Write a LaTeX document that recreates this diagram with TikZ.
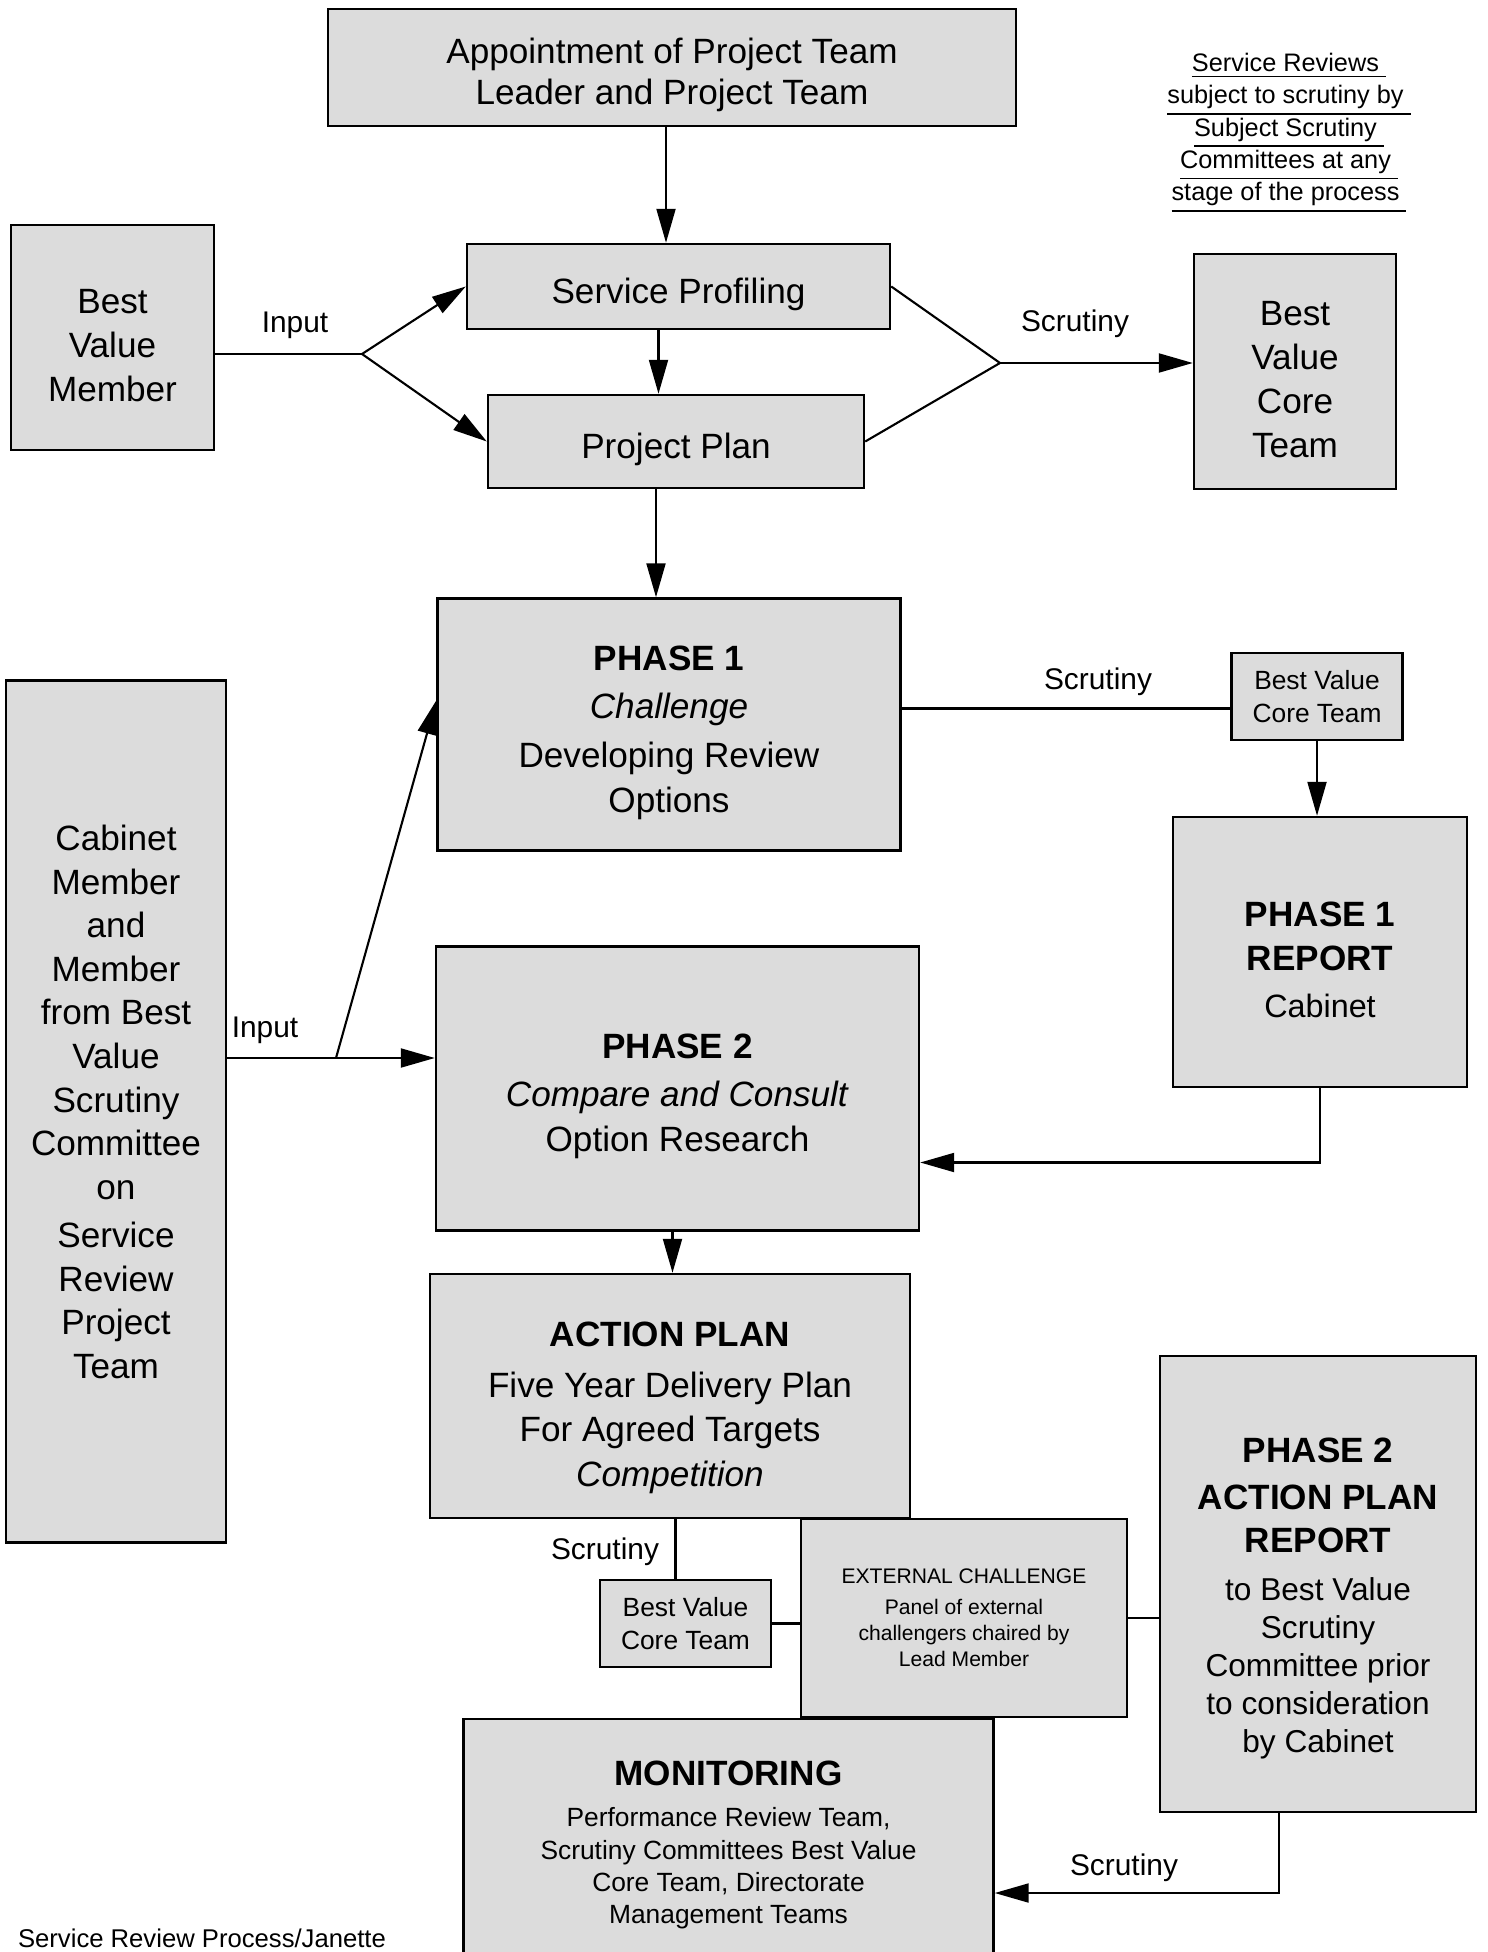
\documentclass[tikz,border=0pt]{standalone}
\usepackage{fontspec}
\setmainfont{Liberation Sans}
\usetikzlibrary{arrows.meta,positioning}
\definecolor{boxgray}{RGB}{220,220,220}
\newcommand{\topgap}[1][11.5pt]{\rule{0pt}{#1}}

\begin{document}
\begin{tikzpicture}[line width=0.6pt,
  box/.style={draw, fill=boxgray, line width=0.7pt, align=center, inner sep=0pt, font=\fontsize{10}{12.4}\selectfont},
  small/.style={box, font=\fontsize{7.5}{9.4}\selectfont, minimum width=1.71cm, minimum height=0.87cm},
  lbl/.style={inner sep=1pt, font=\fontsize{8.5}{10}\selectfont},
  arr/.style={-{Triangle[length=3.4mm,width=1.9mm]}}]

  \useasboundingbox (0,0) rectangle (14.87,-19.52);
  \clip (0,0) rectangle (14.87,-19.52);

  % Start of the review
  \node[box, minimum width=6.88cm, minimum height=1.17cm, font=\fontsize{10}{11.7}\selectfont] (appt) at (6.72,-0.675) {\topgap Appointment of Project Team\\Leader and Project Team};
  \node[box, minimum width=4.23cm, minimum height=0.85cm] (prof) at (6.785,-2.865) {\topgap Service Profiling};
  \node[box, minimum width=3.76cm, minimum height=0.93cm] (plan) at (6.76,-4.415) {\topgap Project Plan};
  \node[box, minimum width=2.03cm, minimum height=2.25cm] (bvm) at (1.125,-3.375) {\topgap Best\\Value\\Member};
  \node[box, minimum width=2.02cm, minimum height=2.35cm, font=\fontsize{10}{12.6}\selectfont] (core1) at (12.95,-3.715) {\topgap Best\\Value\\Core\\Team};
  \node[align=center, font=\fontsize{7.2}{9.2}\selectfont] (note) at (12.89,-1.33) {\underline{Service Reviews }\\\underline{subject to scrutiny by }\\\underline{Subject Scrutiny }\\\underline{Committees at any }\\\underline{stage of the process }};

  \coordinate (in1) at (3.62,-3.54);
  \coordinate (sc1) at (10.0,-3.63);
  \draw[arr] ([xshift=-0.6mm]appt.south) -- ([xshift=-0.6mm]appt.south |- prof.north);
  \draw[arr] ([xshift=-2mm]prof.south) -- ([xshift=-2mm]prof.south |- plan.north);
  \draw (bvm.east |- in1) -- (in1);
  \draw[arr] (in1) -- (prof.west);
  \draw[arr] (in1) -- (plan.west);
  \node[lbl] (inlbl1) at (2.95,-3.25) {Input};
  \draw (prof.east) -- (sc1);
  \draw (plan.east) -- (sc1);
  \draw[arr] (sc1) -- (sc1 -| core1.west);
  \node[lbl] (sclbl1) at (10.75,-3.24) {Scrutiny};

  % Phase 1 and Phase 2
  \node[box, minimum width=4.63cm, minimum height=2.52cm, font=\fontsize{10}{12.8}\selectfont] (ph1) at (6.69,-7.245) {\topgap\textbf{PHASE 1}\\[1pt]\textit{Challenge}\\[1pt]Developing Review\\Options};
  \node[small] (core2) at (13.17,-6.965) {Best Value\\Core Team};
  \node[box, minimum width=2.94cm, minimum height=2.70cm] (rep1) at (13.2,-9.52) {\topgap\textbf{PHASE 1}\\\textbf{REPORT}\\[1pt]{\fontsize{9.2}{11}\selectfont Cabinet}};
  \node[box, minimum width=2.20cm, minimum height=8.62cm] (cab) at (1.16,-11.115) {Cabinet\\Member\\and\\Member\\from Best\\Value\\Scrutiny\\Committee\\on\\[1.4pt]Service\\Review\\Project\\Team\rule[-5.5pt]{0pt}{5.5pt}};
  \node[box, minimum width=4.83cm, minimum height=2.84cm, font=\fontsize{10}{12.8}\selectfont] (ph2) at (6.775,-10.885) {\topgap\textbf{PHASE 2}\\[1pt]\textit{Compare and Consult}\\Option Research};

  \coordinate (in2) at (3.36,-10.58);
  \draw[arr] ([xshift=-2mm]plan.south) -- ([xshift=-2mm]plan.south |- ph1.north);
  \draw ([yshift=1.6mm]ph1.east) -- ([yshift=1.6mm]ph1.east -| core2.west);
  \node[lbl] (sclbl2) at (10.98,-6.82) {Scrutiny};
  \draw[arr] (core2.south) -- (core2.south |- rep1.north);
  \draw[arr] (rep1.south) |- ([yshift=-7.4mm]ph2.east);
  \draw[arr] (cab.east |- in2) -- (in2 -| ph2.west);
  \draw[arr] (in2) -- ([yshift=2.4mm]ph1.west);
  \node[lbl] (inlbl2) at (2.65,-10.30) {Input};

  % Action plan and monitoring
  \node[box, minimum width=4.80cm, minimum height=2.44cm, font=\fontsize{10}{12.6}\selectfont] (act) at (6.70,-13.96) {\topgap[13.6pt]\textbf{ACTION PLAN}\\[2pt]Five Year Delivery Plan\\For Agreed Targets\\\textit{Competition}};
  \node[small] (core3) at (6.855,-16.235) {Best Value\\Core Team};
  \node[box, minimum width=3.26cm, minimum height=1.98cm, font=\fontsize{6}{7.4}\selectfont] (ext) at (9.64,-16.18) {EXTERNAL CHALLENGE\\[1.5pt]Panel of external\\challengers chaired by\\Lead Member};
  \node[box, minimum width=3.16cm, minimum height=4.56cm, font=\fontsize{9}{10.8}\selectfont] (rep2) at (13.18,-15.84) {{\fontsize{10}{12}\selectfont\bfseries\topgap[15pt]PHASE 2}\\[2.6pt]{\fontsize{10}{12}\selectfont\bfseries ACTION PLAN}\\[1.4pt]{\fontsize{10}{12}\selectfont\bfseries REPORT}\\[2.9pt]to Best Value\\Scrutiny\\Committee prior\\to consideration\\by Cabinet};
  \node[box, minimum width=5.30cm, minimum height=2.52cm, font=\fontsize{7.5}{9.2}\selectfont] (mon) at (7.285,-18.45) {{\fontsize{10}{12}\selectfont\bfseries MONITORING}\\[2.7pt]Performance Review Team,\\Scrutiny Committees Best Value\\Core Team, Directorate\\Management Teams};

  \draw[arr] ([xshift=-0.5mm]ph2.south) -- ([xshift=-0.5mm]ph2.south |- act.north);
  \draw ([xshift=-1mm]core3.north) -- ([xshift=-1mm]core3.north |- act.south);
  \node[lbl] (sclbl3) at (6.05,-15.52) {Scrutiny};
  \draw (core3.east) -- (core3.east -| ext.west);
  \draw (ext.east) -- (ext.east -| rep2.west);
  \draw[arr] ([xshift=-3.9mm]rep2.south) |- ([yshift=-4.8mm]mon.east);
  \node[lbl] (sclbl4) at (11.24,-18.68) {Scrutiny};

  \node[anchor=base west, inner sep=0pt, font=\fontsize{7.3}{9}\selectfont] (foot) at (0.17,-19.47) {Service Review Process/Janette};
\end{tikzpicture}
\end{document}
